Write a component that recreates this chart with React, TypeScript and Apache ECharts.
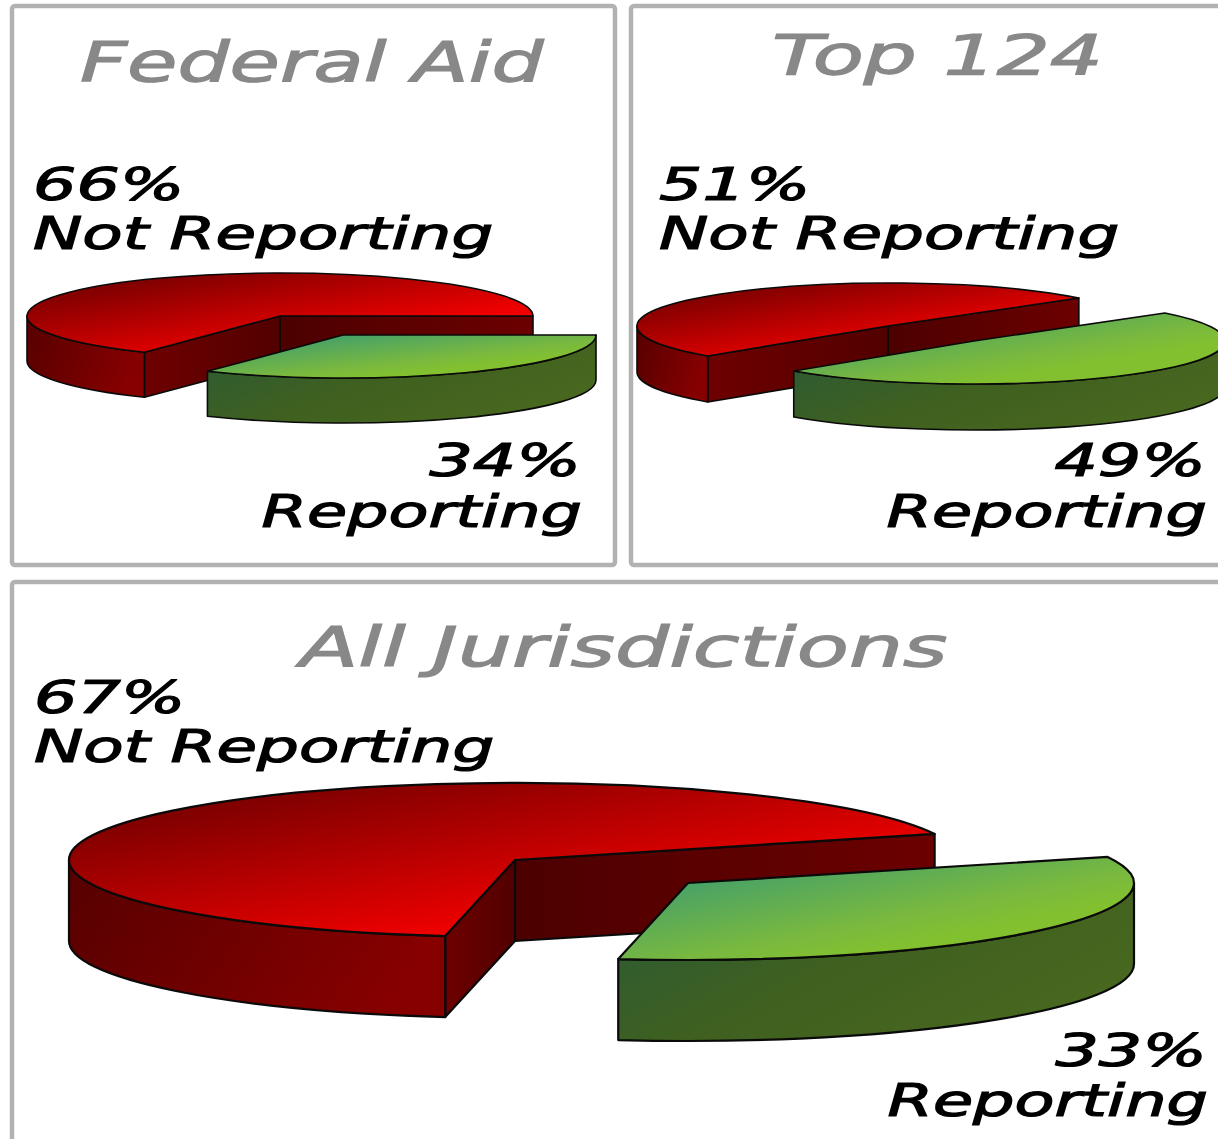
import React, { useEffect, useRef } from "react";
import * as echarts from "echarts";

const panelTitles = ["Federal Aid", "Top 124", "All Jurisdictions"];
const notReportingShare = [66, 51, 67];
const reportingShare = [34, 49, 33];
const notReportingLabel = "Not Reporting";
const reportingLabel = "Reporting";

const FONT = '"DejaVu Sans"';

// Geometry of each 3-D pie (picture layout only)
const pies = [
  { red: [280, 316], green: [343, 335], rx: 253, ry: 43, depth: 45, edge: 0, lw: 1.6 },
  { red: [888, 326], green: [974, 341], rx: 251, ry: 43, depth: 46, edge: -40.5, lw: 1.6 },
  { red: [515, 860], green: [688, 883], rx: 446, ry: 77, depth: 81, edge: -19.8, lw: 2.2 },
];

const panels = [
  { x: 12, y: 6, width: 603, height: 559 },
  { x: 631, y: 6, width: 620, height: 559 },
  { x: 12, y: 582, width: 1240, height: 600 },
];

const titleAnchors = [
  { x: 80, y: 81, sx: 1.49 },
  { x: 772, y: 75, sx: 1.52 },
  { x: 300, y: 667, sx: 1.55 },
];
const labelAnchors = [
  { left: 33, top1: 201, top2: 250, right1: 581, right2: 582, bot1: 477, bot2: 527 },
  { left: 659, top1: 201, top2: 250, right1: 1206, right2: 1207, bot1: 477, bot2: 527 },
  { left: 34, top1: 714, top2: 763, right1: 1207, right2: 1208, bot1: 1067, bot2: 1116 },
];
const PCT_STRETCH = 1.55;
const NOT_STRETCH = 1.5;
const REP_STRETCH = 1.485;

const rows: number[][] = [];
panelTitles.forEach((_, i) => {
  rows.push([i, 0, notReportingShare[i]]);
  rows.push([i, 1, reportingShare[i]]);
});

const grad = (x2: number, y2: number, stops: [number, string][]) =>
  new echarts.graphic.LinearGradient(0, 0, x2, y2, stops.map(([offset, color]) => ({ offset, color })));

const renderSlice = (_: any, api: any) => {
  const p = pies[api.value(0)];
  const kind = api.value(1);
  const other = kind === 0 ? reportingShare[api.value(0)] : notReportingShare[api.value(0)];
  const value = api.value(2);
  const [cx, cy] = kind === 0 ? p.red : p.green;
  // green runs clockwise from the edge, red takes the rest of the circle
  const a = kind === 1 ? p.edge : p.edge + other * 3.6;
  const b = a + value * 3.6;
  const pt = (deg: number, dy = 0) => {
    const t = (deg * Math.PI) / 180;
    return [cx + p.rx * Math.cos(t), cy + p.ry * Math.sin(t) + dy];
  };
  const s = (q: number[]) => `${q[0].toFixed(2)} ${q[1].toFixed(2)}`;
  const arc = (to: number[], span: number, sweep: number) =>
    `A ${p.rx} ${p.ry} 0 ${span > 180 ? 1 : 0} ${sweep} ${s(to)}`;
  const stroke = "#0a0a0a";
  const lineWidth = p.lw;
  const lineJoin = "round";
  const wallPath = (deg: number) =>
    `M ${s([cx, cy])} L ${s(pt(deg))} L ${s(pt(deg, p.depth))} L ${s([cx, cy + p.depth])} Z`;
  const children: any[] = [];
  const wallFill =
    kind === 0
      ? grad(1, 0, [[0, "#4c0000"], [1, "#6c0000"]])
      : grad(1, 0, [[0, "#2f5c33"], [1, "#4a6a25"]]);
  if (Math.cos((b * Math.PI) / 180) > 0)
    children.push({ type: "path", shape: { pathData: wallPath(b) }, style: { fill: wallFill, stroke, lineWidth, lineJoin } });
  if (-Math.cos((a * Math.PI) / 180) > 0)
    children.push({
      type: "path",
      shape: { pathData: wallPath(a) },
      style: { fill: kind === 0 ? grad(1, 0, [[0, "#6e0000"], [1, "#520000"]]) : wallFill, stroke, lineWidth, lineJoin },
    });
  const from = Math.max(a, 0);
  const to = Math.min(b, 180);
  if (to > from) {
    children.push({
      type: "path",
      shape: {
        pathData: `M ${s(pt(from))} ${arc(pt(to), to - from, 1)} L ${s(pt(to, p.depth))} ${arc(pt(from, p.depth), to - from, 0)} Z`,
      },
      style: {
        fill:
          kind === 0
            ? grad(1, 0.3, [[0, "#560000"], [1, "#860000"]])
            : grad(1, 0.6, [[0, "#2a5a38"], [0.55, "#3f601f"], [1, "#48681f"]]),
        stroke,
        lineWidth,
        lineJoin,
      },
    });
  }
  children.push({
    type: "path",
    shape: { pathData: `M ${s([cx, cy])} L ${s(pt(a))} ${arc(pt(b), b - a, 1)} Z` },
    style: {
      fill:
        kind === 0
          ? grad(1, 1, [[0, "#600000"], [0.7, "#ee0000"], [1, "#ff0000"]])
          : grad(1, 1, [[0, "#2f9a7a"], [0.25, "#50a560"], [0.55, "#78b840"], [0.7, "#82c030"], [1, "#82c030"]]),
      stroke,
      lineWidth,
      lineJoin,
    },
  });
  return { type: "group", children };
};

const textEl = (text: string, x: number, base: number, size: number, fill: string, align: string, sx: number) => ({
  type: "text",
  x,
  y: base - size * 0.36,
  scaleX: sx,
  z: 10,
  style: {
    text,
    font: `italic ${size}px ${FONT}`,
    fill,
    stroke: fill,
    lineWidth: 1.2,
    textAlign: align,
    textVerticalAlign: "middle",
  },
});

export default function App() {
  const ref = useRef<HTMLDivElement>(null);
  useEffect(() => {
    const chart = echarts.init(ref.current!, undefined, { renderer: "svg" });
    const graphic: any[] = panels.map((r) => ({
      type: "rect",
      shape: { ...r, r: 3 },
      z: 0,
      style: { fill: "#ffffff", stroke: "#b2b2b2", lineWidth: 4.5 },
    }));
    panelTitles.forEach((t, i) => {
      const a = titleAnchors[i];
      const l = labelAnchors[i];
      graphic.push(textEl(t, a.x, a.y, 55, "#888888", "left", a.sx));
      graphic.push(textEl(`${notReportingShare[i]}%`, l.left, l.top1, 44, "#000000", "left", PCT_STRETCH));
      graphic.push(textEl(notReportingLabel, l.left, l.top2, 44, "#000000", "left", NOT_STRETCH));
      graphic.push(textEl(`${reportingShare[i]}%`, l.right1, l.bot1, 44, "#000000", "right", PCT_STRETCH));
      graphic.push(textEl(reportingLabel, l.right2, l.bot2, 44, "#000000", "right", REP_STRETCH));
    });
    chart.setOption({
      animation: false,
      backgroundColor: "#ffffff",
      graphic,
      series: [
        {
          type: "custom",
          coordinateSystem: "none",
          silent: true,
          z: 2,
          data: rows,
          renderItem: renderSlice,
        },
      ],
    });
    return () => chart.dispose();
  }, []);
  return <div ref={ref} style={{ position: "absolute", left: 0, top: 0, width: 1218, height: 1139 }} />;
}
